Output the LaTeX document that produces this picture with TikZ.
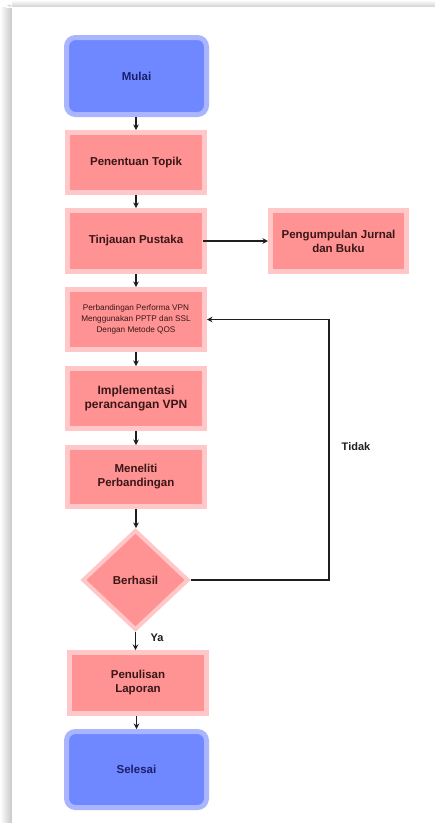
\documentclass[tikz,border=0pt]{standalone}
\usepackage{fontspec}
\setmainfont{Liberation Sans}
\usetikzlibrary{shapes.geometric,arrows.meta}
\definecolor{bluefill}{HTML}{6F87FF}
\definecolor{bluehalo}{HTML}{A9B6FF}
\definecolor{pinkfill}{HTML}{FF9393}
\definecolor{pinkhalo}{HTML}{FFC7C7}
\definecolor{navytext}{HTML}{1B1F6B}
\definecolor{redtext}{HTML}{3A1616}
\definecolor{linecol}{HTML}{1E1E1E}
\tikzset{
  x=1pt,y=-1pt,
  term/.style={draw=bluehalo,fill=bluefill,line width=5pt,rounded corners=9pt,
    outer sep=2.5pt,inner sep=0pt,text=navytext,align=center,
    font=\fontsize{11.5}{14}\selectfont\bfseries},
  proc/.style={draw=pinkhalo,fill=pinkfill,line width=5pt,
    outer sep=2.5pt,inner sep=0pt,text=redtext,align=center,
    font=\fontsize{11.5}{14}\selectfont\bfseries},
  dec/.style={diamond,draw=pinkhalo,fill=pinkfill,line width=4pt,
    outer sep=2pt,inner sep=0pt,text=redtext,
    font=\fontsize{11.5}{14}\selectfont\bfseries},
  arr/.style={draw=linecol,line width=1.2pt,-{Stealth[length=5.5pt,width=5.5pt]}},
  lbl/.style={text=linecol,font=\fontsize{11}{13}\selectfont\bfseries,inner sep=0pt}
}
\begin{document}
\begin{tikzpicture}
\useasboundingbox (0,0) rectangle (435,823);
% page shadow
\shade[left color=white,right color=black!22] (0,7) rectangle (12,823);
\shade[top color=white,bottom color=black!18] (12,0) rectangle (435,7);
\shade[inner color=black!18,outer color=white] (6,3.5) rectangle (12,7);
\fill[white] (12,7) rectangle (435,823);

\node[term,minimum width=140pt,minimum height=77pt] (mulai) at (136.5,76) {Mulai};
\node[proc,minimum width=137pt,minimum height=60pt] (topik) at (136,162.5) {Penentuan Topik};
\node[proc,minimum width=137pt,minimum height=61pt] (tinjau) at (136,241) {Tinjauan Pustaka};
\node[proc,minimum width=136pt,minimum height=61pt] (jurnal) at (338.5,241) {Pengumpulan Jurnal\\dan Buku};
\node[proc,minimum width=137pt,minimum height=60pt,
  font=\fontsize{8.2}{11.2}\selectfont] (banding) at (136,319.5)
  {Perbandingan Performa VPN\\Menggunakan PPTP dan SSL\\Dengan Metode QOS};
\node[proc,minimum width=137pt,minimum height=60pt,
  font=\fontsize{12}{14}\selectfont\bfseries] (impl) at (136,398.5)
  {Implementasi\\perancangan VPN};
\node[proc,minimum width=137pt,minimum height=59pt] (teliti) at (136,477) {Meneliti\\Perbandingan};
\node[dec,minimum width=106pt,minimum height=100pt] (hasil) at (135.5,580) {Berhasil};
\node[proc,minimum width=137pt,minimum height=61pt] (tulis) at (138,683) {Penulisan\\Laporan};
\node[term,minimum width=140pt,minimum height=76pt] (selesai) at (136.5,769.5) {Selesai};

\draw[arr] (mulai.south -| topik.north) -- (topik.north);
\draw[arr] (topik) -- (tinjau);
\draw[arr] (tinjau.east) ++(-4,0) coordinate (tj) -- (jurnal.west);
\draw[arr] (tinjau) -- (banding);
\draw[arr] (banding) -- (impl);
\draw[arr] (impl) -- (teliti);
\draw[arr] (teliti.south) -- (teliti.south |- hasil.north);
\coordinate (loopc) at (329,580);
\draw[arr,line width=1.3pt] (hasil.east) -- (loopc) |- (banding.east);
\draw[arr] (hasil.south) -- (hasil.south |- tulis.north);
\draw[arr] (tulis.south -| selesai.north) -- (selesai.north);

\node[lbl] (tidak) at (356,447) {Tidak};
\node[lbl] (ya) at (157,638) {Ya};
\end{tikzpicture}
\end{document}
